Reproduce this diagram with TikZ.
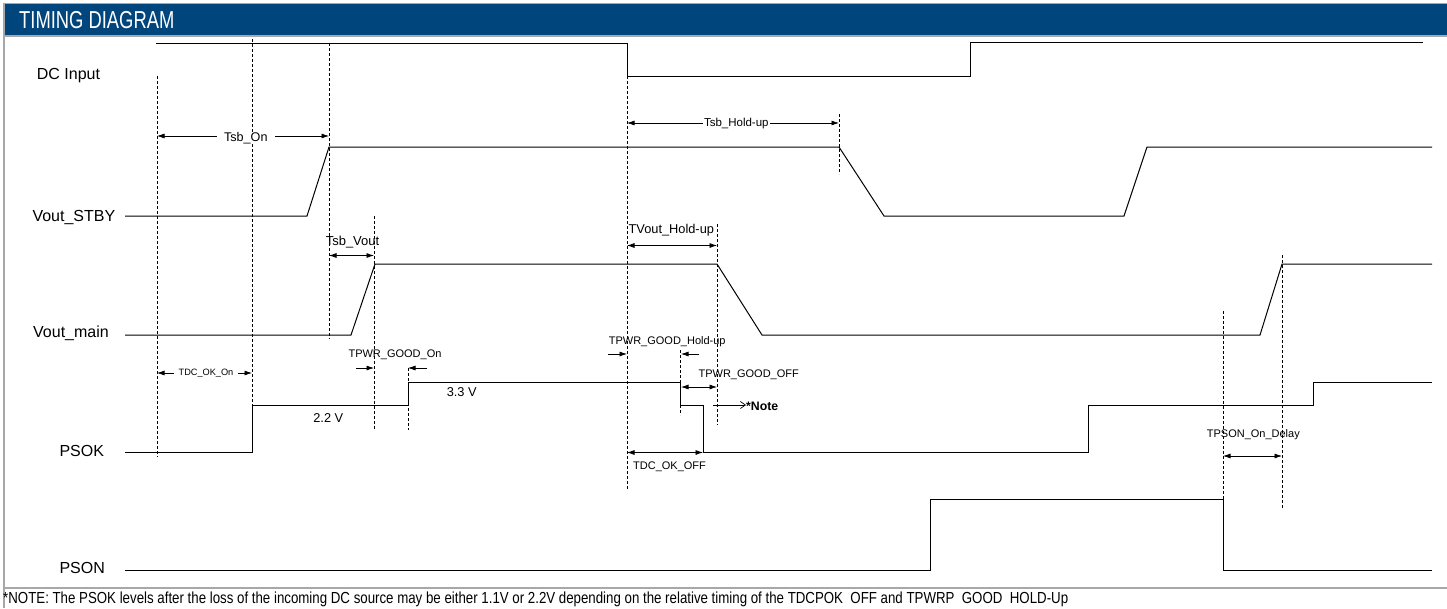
\documentclass[tikz,border=0pt]{standalone}
\usepackage{fontspec}
\setmainfont{Liberation Sans}
\newfontfamily\condfont[FakeStretch=0.75]{Liberation Sans}
\newfontfamily\notefont[FakeStretch=0.83]{Liberation Sans}
\usetikzlibrary{arrows.meta}

\definecolor{headblue}{RGB}{0,69,124}
\definecolor{framegray}{RGB}{168,168,168}

\begin{document}
\begin{tikzpicture}[x=1pt,y=-1pt,
    signal/.style={line width=1pt},
    guide/.style={dash pattern=on 3pt off 2pt,line width=0.6pt},
    dimarrow/.style={line width=0.7pt,{Latex[length=7.5pt,width=5pt]}-{Latex[length=7.5pt,width=5pt]}},
    onearrow/.style={line width=0.7pt,-{Latex[length=7.5pt,width=5pt]}},
    siglabel/.style={anchor=base west,inner sep=0pt,font=\fontsize{16}{18}\selectfont},
    tlabel/.style={anchor=base,inner sep=0pt,font=\fontsize{11}{13}\selectfont},
  ]
  \useasboundingbox (0,0) rectangle (1447,608);

  % frame and header
  \fill[headblue] (4,4) rectangle (1447,35);
  \draw[framegray,line width=1.5pt] (4,608) -- (4,3.5) -- (1447,3.5);
  \draw[framegray,line width=1.5pt] (4,36) -- (1447,36);
  \draw[framegray,line width=1.5pt] (4,588) -- (1447,588);
  \node[anchor=base west,inner sep=0pt,text=white,font=\condfont\fontsize{24.5}{26}\selectfont] (title) at (19,28.5) {TIMING DIAGRAM};

  % signal names
  \node[siglabel] (dcin) at (36.7,79) {DC Input};
  \node[siglabel] (vstby) at (32.3,221.7) {Vout\_STBY};
  \node[siglabel] (vmain) at (33,337.7) {Vout\_main};
  \node[siglabel] (psok) at (59.3,456) {PSOK};
  \node[siglabel] (pson) at (59.3,573.3) {PSON};

  % waveforms
  \draw[signal] (156,43) -- (627,43) -- (627,76) -- (970,76) -- (970,42) -- (1423,42);
  \draw[signal] (125,216) -- (307,216) -- (329,147) -- (839,147) -- (884,216)
    -- (1124,216) -- (1147,147) -- (1432,147);
  \draw[signal] (125,335) -- (351,335) -- (375,264) -- (717,264) -- (762,335)
    -- (1260,335) -- (1282,264) -- (1432,264);
  \draw[signal] (125,452) -- (252,452) -- (252,405) -- (408,405) -- (408,382)
    -- (680,382) -- (680,405) -- (703,405) -- (703,452) -- (1088,452)
    -- (1088,405) -- (1313,405) -- (1313,382) -- (1432,382);
  \draw[signal] (125,570) -- (930,570) -- (930,499) -- (1223,499) -- (1223,570) -- (1432,570);

  % dashed guides
  \draw[guide] (157,76) -- (157,457);
  \draw[guide] (252,39) -- (252,405);
  \draw[guide] (329,43) -- (329,339);
  \draw[guide] (374,216) -- (374,430);
  \draw[guide] (408,368) -- (408,430);
  \draw[guide] (627,76) -- (627,490);
  \draw[guide] (680,350) -- (680,415);
  \draw[guide] (717,224) -- (717,425);
  \draw[guide] (839,114) -- (839,174);
  \draw[guide] (1223,311) -- (1223,499);
  \draw[guide] (1282,255) -- (1282,509);

  % timing marks
  \coordinate (tsbonL) at (157,136);
  \coordinate (tsbonR) at (329,136);
  \draw[dimarrow] (tsbonL) -- (tsbonR);
  \node[tlabel,fill=white,inner xsep=7pt,font=\fontsize{12.6}{14}\selectfont] (tsbon) at (245.8,141.7) {Tsb\_On};

  \coordinate (tsbholdL) at (627,123);
  \coordinate (tsbholdR) at (839,123);
  \draw[dimarrow] (tsbholdL) -- (tsbholdR);
  \node[tlabel,fill=white,inner xsep=1.5pt,font=\fontsize{11.5}{13}\selectfont] (tsbhold) at (736.3,126.7) {Tsb\_Hold-up};

  \coordinate (tsbvoutL) at (329,255.5);
  \coordinate (tsbvoutR) at (374,255.5);
  \draw[dimarrow] (tsbvoutL) -- (tsbvoutR);
  \node[tlabel,font=\fontsize{13}{15}\selectfont] (tsbvout) at (352.5,245) {Tsb\_Vout};

  \coordinate (tvholdL) at (627,245.5);
  \coordinate (tvholdR) at (717,245.5);
  \draw[dimarrow] (tvholdL) -- (tvholdR);
  \node[tlabel,font=\fontsize{12.8}{15}\selectfont] (tvhold) at (671.3,233.3) {TVout\_Hold-up};

  \coordinate (tdconL) at (157,373);
  \coordinate (tdconR) at (252,373);
  \draw[dimarrow] (tdconL) -- (tdconR);
  \node[tlabel,fill=white,inner xsep=5pt,font=\fontsize{9.2}{11}\selectfont] (tdcon) at (206,375.7) {TDC\_OK\_On};

  \coordinate (pgonA) at (356,368);
  \coordinate (pgonB) at (374,368);
  \coordinate (pgonC) at (427,368);
  \coordinate (pgonD) at (408,368);
  \draw[onearrow] (pgonA) -- (pgonB);
  \draw[onearrow] (pgonC) -- (pgonD);
  \node[tlabel] (pgon) at (395,357.7) {TPWR\_GOOD\_On};

  \coordinate (pgholdA) at (608,354);
  \coordinate (pgholdB) at (627,354);
  \coordinate (pgholdC) at (699,354);
  \coordinate (pgholdD) at (681,354);
  \draw[onearrow] (pgholdA) -- (pgholdB);
  \draw[onearrow] (pgholdC) -- (pgholdD);
  \node[tlabel] (pghold) at (667.2,344.3) {TPWR\_GOOD\_Hold-up};

  \coordinate (pgoffL) at (681,387);
  \coordinate (pgoffR) at (717,387);
  \draw[dimarrow] (pgoffL) -- (pgoffR);
  \node[tlabel] (pgoff) at (748.7,377.7) {TPWR\_GOOD\_OFF};

  \coordinate (noteA) at (713,405);
  \node[anchor=base west,inner sep=0pt,font=\bfseries\fontsize{12.3}{14}\selectfont] (note) at (746,410) {*Note};
  \draw[line width=0.7pt,-{Straight Barb[length=5pt,width=7pt]}] (noteA) -- (note.west |- noteA);

  \coordinate (tdcoffL) at (627,452.5);
  \coordinate (tdcoffR) at (703,452.5);
  \draw[dimarrow] (tdcoffL) -- (tdcoffR);
  \node[tlabel] (tdcoff) at (669.5,469) {TDC\_OK\_OFF};

  \coordinate (psondL) at (1223,456);
  \coordinate (psondR) at (1282,456);
  \draw[dimarrow] (psondL) -- (psondR);
  \node[tlabel] (psond) at (1253.3,437.3) {TPSON\_On\_Delay};

  % levels
  \node[tlabel,font=\fontsize{12.8}{15}\selectfont] (lvA) at (328.3,422.7) {2.2 V};
  \node[tlabel,font=\fontsize{12.8}{15}\selectfont] (lvB) at (461.7,396.7) {3.3 V};

  % footnote
  \node[anchor=base west,inner sep=0pt,font=\notefont\fontsize{16}{18}\selectfont] (foot) at (3,603.5)
    {*NOTE: The PSOK levels after the loss of the incoming DC source may be either 1.1V or 2.2V depending on the relative timing of the TDCPOK\ \ OFF and TPWRP\ \ GOOD\ \ HOLD-Up};
\end{tikzpicture}
\end{document}
